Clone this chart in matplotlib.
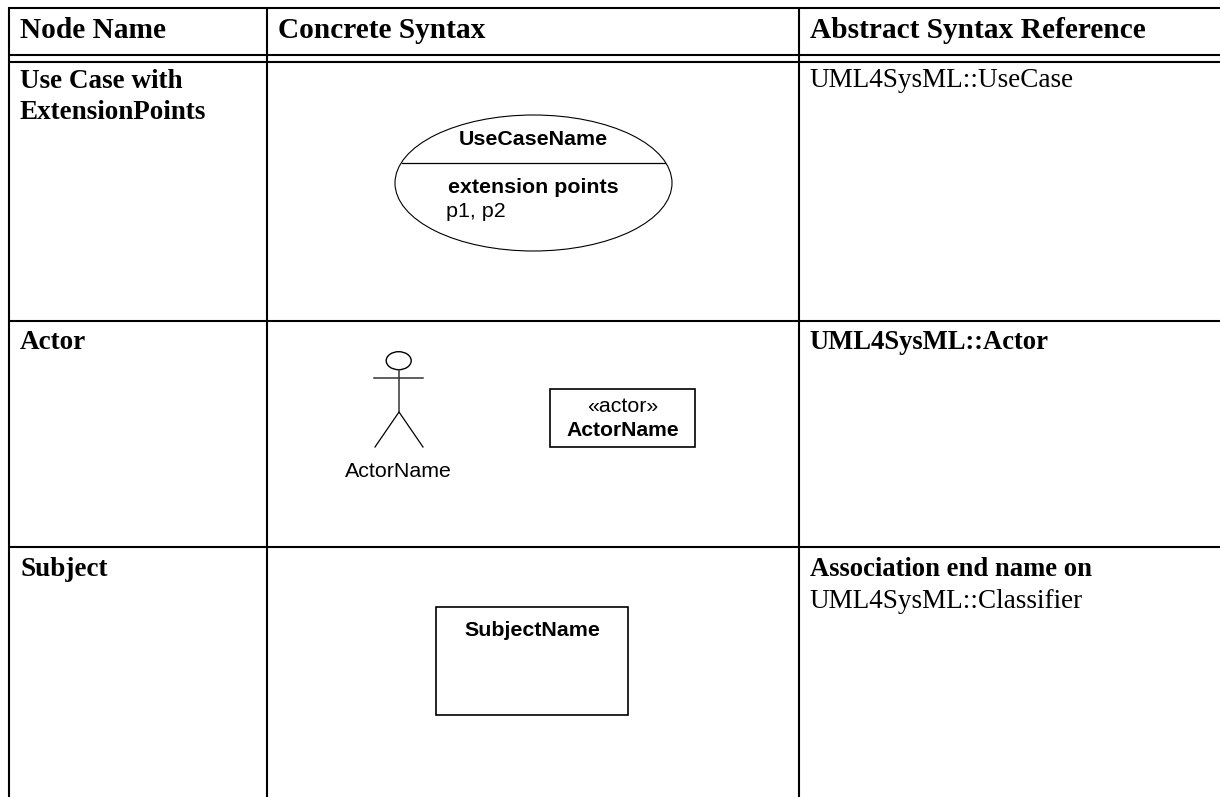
import matplotlib.pyplot as plt
from matplotlib.patches import Ellipse, Rectangle

W = 1220
H = 797

headers = ["Node Name", "Concrete Syntax", "Abstract Syntax Reference"]
header_x = [20, 278, 810]
node_names = ["Use Case with", "ExtensionPoints", "Actor", "Subject"]
node_y = [87.5, 119, 349, 576]
row_lines = [321, 546.5]
col_lines = [8.5, 267, 799]

fig = plt.figure(figsize=(W / 100, H / 100), dpi=100)
ax = fig.add_axes([0, 0, 1, 1])
ax.set_xlim(0, W)
ax.set_ylim(H, 0)
ax.axis("off")

serif = "Liberation Serif"
sans = "Liberation Sans"

# table rules
for y in [8, 54.5, 61.5] + row_lines:
    ax.plot([8, W], [y, y], color="black", lw=1.5, solid_capstyle="butt")
for x in col_lines:
    ax.plot([x, x], [7, 797], color="black", lw=1.5, solid_capstyle="butt")

for x, s in zip(header_x, headers):
    ax.text(x, 38, s, family=serif, weight="bold", fontsize=21.15, va="baseline", ha="left")

for y, s in zip(node_y, node_names):
    ax.text(20, y, s, family=serif, weight="bold", fontsize=19.5, va="baseline", ha="left")

# third column
ax.text(809.5, 87, "UML4SysML::UseCase", family=serif, fontsize=19.5, va="baseline")
ax.text(809.5, 349, "UML4SysML::Actor", family=serif, weight="bold", fontsize=19.2, va="baseline")
ax.text(810, 576.5, "Association end name on", family=serif, weight="bold", fontsize=19.2, va="baseline")
ax.text(809.5, 608, "UML4SysML::Classifier", family=serif, fontsize=19.5, va="baseline")

# use case
ax.add_patch(Ellipse((533.5, 183), 277, 136, fill=False, ec="black", lw=0.8))
ax.plot([402, 665], [163, 163], color="black", lw=0.9)
ax.text(533, 145, "UseCaseName", family=sans, weight="bold", fontsize=15.4, ha="center", va="baseline")
ax.text(448, 193, "extension points", family=sans, weight="bold", fontsize=15.4, va="baseline")
ax.text(446.5, 217, "p1, p2", family=sans, fontsize=15.4, va="baseline")

# actor stick figure
ax.add_patch(Ellipse((398.7, 360.7), 25, 18, fill=False, ec="black", lw=1.0))
ax.plot([399, 399], [370, 412], color="#333333", lw=1.1)
ax.plot([374, 423], [377.7, 377.7], color="#333333", lw=1.1)
ax.plot([375, 399, 423], [447, 412, 447], color="black", lw=0.9)
ax.text(398.5, 477, "ActorName", family=sans, fontsize=15.4, ha="center", va="baseline")

# actor box
ax.add_patch(Rectangle((550, 389), 145, 58, fill=False, ec="black", lw=1.2))
ax.text(622.5, 411.5, "«actor»", family=sans, fontsize=15.4, ha="center", va="baseline")
ax.text(622.5, 436, "ActorName", family=sans, weight="bold", fontsize=15.2, ha="center", va="baseline")

# subject box
ax.add_patch(Rectangle((436, 607), 192, 108, fill=False, ec="black", lw=1.2))
ax.text(532, 636.5, "SubjectName", family=sans, weight="bold", fontsize=15.4, ha="center", va="baseline")

fig.savefig("out.png", dpi=100)
